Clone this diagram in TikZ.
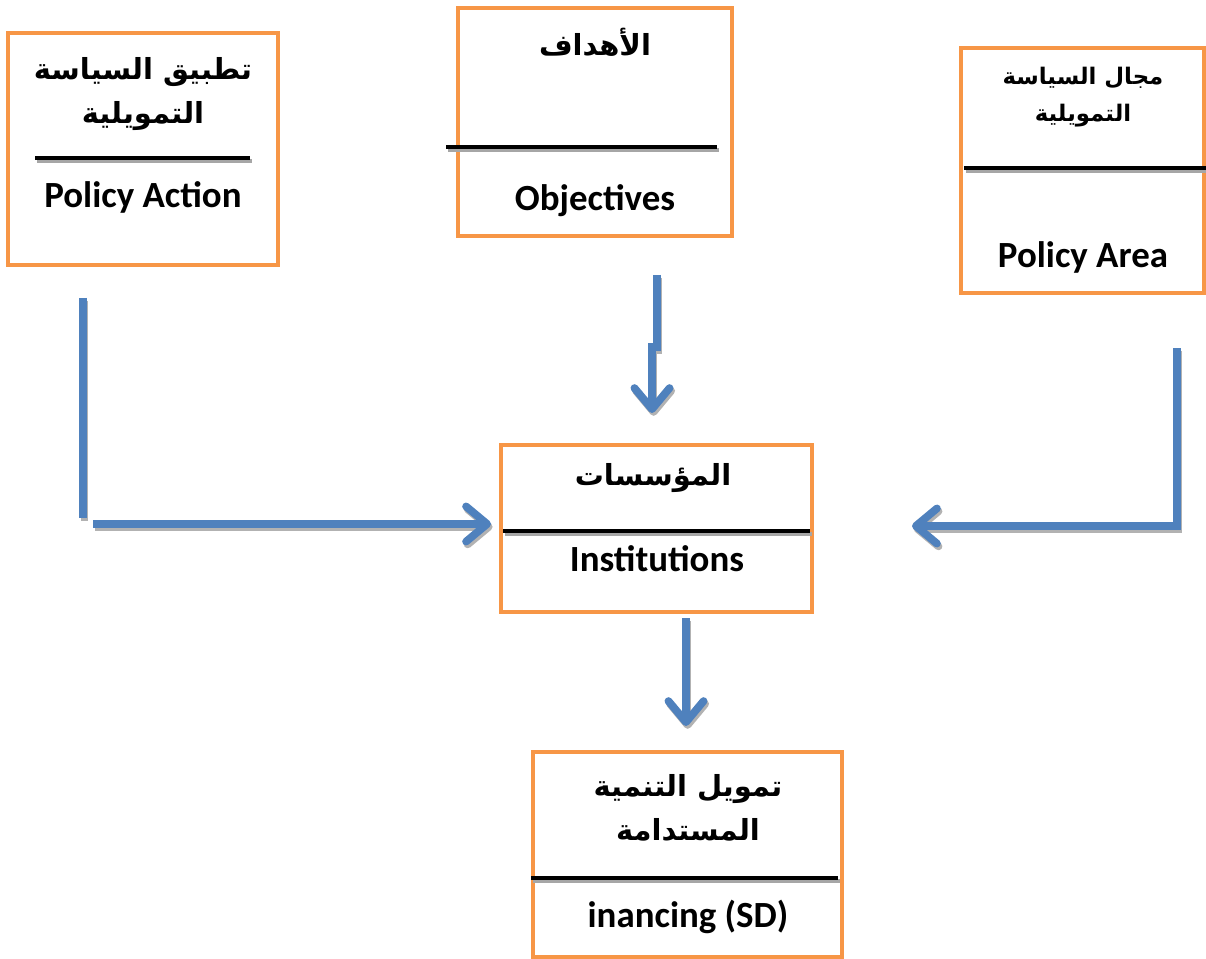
\documentclass[tikz,border=0pt]{standalone}
\usepackage{fontspec}
\setmainfont{Carlito}
\newfontfamily\arabicfont[Script=Arabic]{DejaVu Sans}
\TeXXeTstate=1
\usetikzlibrary{arrows.meta}
\definecolor{boxorange}{HTML}{F79646}
\definecolor{flowblue}{HTML}{4F81BD}

\begin{document}
\begin{tikzpicture}[x=0.02cm, y=-0.02cm,
    box/.style={draw=boxorange, line width=2.3pt, fill=white, inner sep=0pt},
    engl/.style={font=\fontsize{21}{25}\selectfont\bfseries},
    arab/.style={font=\fontsize{16.5}{25}\selectfont\arabicfont\bfseries, align=center},
    arabsmall/.style={font=\fontsize{13}{21}\selectfont\arabicfont\bfseries, align=center},
    divider/.style={line width=2.2pt},
    flow/.style={line width=4.4pt, line join=miter,
        -{Straight Barb[round, length=12pt, width=20pt]}},
    flowline/.style={flow, -}]
    \useasboundingbox (0,0) rectangle (1206,959);

    % Boxes
    \node[box, minimum width=5.40cm, minimum height=4.64cm] (pa) at (143,149) {};
    \node[box, minimum width=5.48cm, minimum height=4.56cm] (obj) at (595,122) {};
    \node[box, minimum width=4.86cm, minimum height=4.90cm] (area) at (1082.5,170.5) {};
    \node[box, minimum width=6.22cm, minimum height=3.34cm] (inst) at (656.5,528.5) {};
    \node[box, minimum width=6.18cm, minimum height=4.10cm] (sd) at (687.5,854.5) {};

    % Texts
    \node[arab] (pa-ar) at (143,94) {\beginR تطبيق السياسة\endR\\\beginR التمويلية\endR};
    \node[engl] (pa-en) at (143,197) {Policy Action};
    \node[arab] (obj-ar) at (595,42) {\beginR الأهداف\endR};
    \node[engl] (obj-en) at (595,201) {Objectives};
    \node[arabsmall] (area-ar) at (1083,97) {\beginR مجال السياسة\endR\\\beginR التمويلية\endR};
    \node[engl] (area-en) at (1083,257) {Policy Area};
    \node[arab] (inst-ar) at (653,478) {\beginR المؤسسات\endR};
    \node[engl] (inst-en) at (657,559) {Institutions};
    \node[arab] (sd-ar) at (688,808) {\beginR تمويل التنمية\endR\\\beginR المستدامة\endR};
    \node[engl] (sd-en) at (688,917) {inancing (SD)};

    % Arrow ends
    \coordinate (pa-out) at (83,298);
    \coordinate (pa-turn) at (83,518);
    \coordinate (inst-inl) at (93,524);
    \coordinate (obj-out) at (657,275);
    \coordinate (obj-jog) at (657,347);
    \coordinate (area-out) at (1177,348);
    \coordinate (inst-inr) at (912,526);
    \coordinate (inst-out) at (686,618);

    % Dividers and arrows: grey shadow first, then the line itself
    \foreach \rulecol/\flowcol/\dx/\dy in {black!35/black!30/0.9pt/-1.6pt, black/flowblue/0pt/0pt} {
      \begin{scope}[transform canvas={shift={(\dx,\dy)}}]
        \draw[divider, \rulecol] (35,158) -- (250,158);
        \draw[divider, \rulecol] (446,147) -- (717,147);
        \draw[divider, \rulecol] (964,168) -- (1206,168);
        \draw[divider, \rulecol] (503,531) -- (810,531);
        \draw[divider, \rulecol] (531,878) -- (838,878);

        \draw[flowline, \flowcol] (pa-out) -- (pa-turn);
        \draw[flow, \flowcol] (inst-inl) -- ([xshift=-0.16cm]inst.west |- inst-inl);
        \draw[flow, \flowcol] (obj-out) -- (obj-jog) -- ++(-5,0) -- ([yshift=0.6cm]inst.north -| 652,0);
        \draw[flow, \flowcol] (area-out) |- (inst-inr);
        \draw[flow, \flowcol] (inst-out) -- ([yshift=0.48cm]sd.north -| inst-out);
      \end{scope}
    }
\end{tikzpicture}
\end{document}
